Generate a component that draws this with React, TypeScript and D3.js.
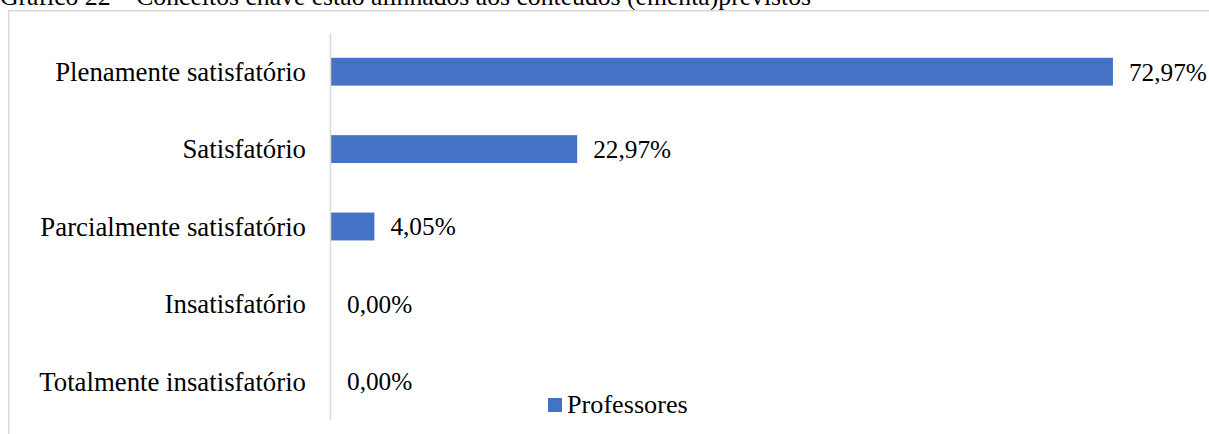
import React from 'react';
import * as d3 from 'd3';

// Chart data
const categories = [
  'Plenamente satisfatório',
  'Satisfatório',
  'Parcialmente satisfatório',
  'Insatisfatório',
  'Totalmente insatisfatório',
];
const professores = [72.97, 22.97, 4.05, 0, 0];
const seriesName = 'Professores';
const title = 'Gráfico 22 – Conceitos chave estão alinhados aos conteúdos (ementa)previstos';

const W = 1209;
const H = 434;
const FONT = '"Liberation Serif", "Times New Roman", serif';
const BLUE = '#4472c4';

const fmt = (v: number) => v.toFixed(2).replace('.', ',') + '%';

export default function App() {
  const x = d3.scaleLinear().domain([0, 80]).range([331, 331 + 80 * 10.716]);
  const y = d3.scaleBand<string>()
    .domain(categories)
    .range([33, 420])
    .paddingInner(0.64)
    .paddingOuter(0.32);

  return (
    <div style={{ position: 'absolute', left: 0, top: 0, width: W, height: H, background: '#fff' }}>
      <svg width={W} height={H} style={{ display: 'block', fontFamily: FONT }}>
        {/* title, cut off by the top of the picture as in the source */}
        <text x={0} y={5} fontSize={25.7} fill="#000">{title}</text>

        {/* chart frame */}
        <path d={`M8.75,${H + 5} V10.75 H${W + 5}`} fill="none" stroke="#d9d9d9" strokeWidth={1.5} />

        {/* bars */}
        {categories.map((c, i) => (
          <rect
            key={c}
            x={x(0)}
            y={y(c)!}
            width={x(professores[i]) - x(0)}
            height={y.bandwidth()}
            fill={BLUE}
          />
        ))}

        {/* category axis */}
        <line x1={330.5} x2={330.5} y1={33} y2={420} stroke="#d9d9d9" strokeWidth={1.5} />
        {categories.map(c => (
          <text
            key={c}
            x={306}
            y={y(c)! + y.bandwidth() / 2}
            dy="0.35em"
            textAnchor="end"
            fontSize={26.8}
            fill="#000"
          >
            {c}
          </text>
        ))}

        {/* value labels */}
        {categories.map((c, i) => (
          <text
            key={c}
            x={x(professores[i]) + 16}
            y={y(c)! + y.bandwidth() / 2}
            dy="0.35em"
            fontSize={25.3}
            fill="#000"
          >
            {fmt(professores[i])}
          </text>
        ))}

        {/* legend */}
        <rect x={548} y={398} width={14} height={14} fill={BLUE} />
        <text x={567} y={413} fontSize={26.2} fill="#000">{seriesName}</text>
      </svg>
    </div>
  );
}
